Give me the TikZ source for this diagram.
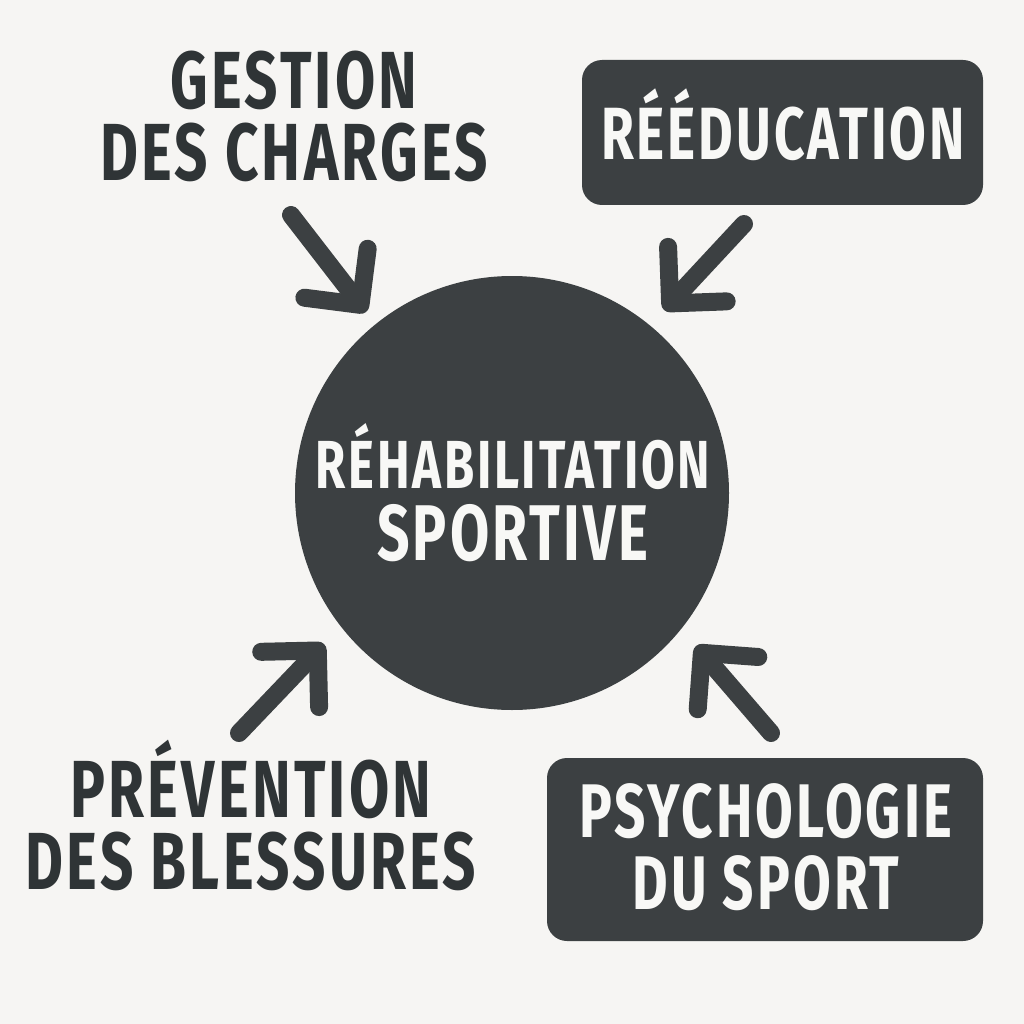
\documentclass[tikz,border=0pt]{standalone}
\usepackage{fontspec}
\newfontfamily\lbl{Fira Sans}[FakeStretch=0.72, LetterSpace=4]
\usetikzlibrary{arrows.meta}
\definecolor{bg}{HTML}{F6F5F3}
\definecolor{dark}{HTML}{3C4042}
\definecolor{ink}{HTML}{2F3436}
\definecolor{paper}{HTML}{F8F8F6}
\tikzset{
  txt/.style={align=center, inner sep=0pt, text=ink},
  wtxt/.style={align=center, inner sep=0pt, text=paper},
  boxed/.style={fill=dark, rounded corners=20pt, inner sep=0pt},
  hub/.style={circle, fill=dark, inner sep=0pt, minimum size=434pt},
  arr/.style={draw=dark, line width=18pt, line cap=round,
    -{Straight Barb[length=40pt, width=80pt, round]}}
}
\newcommand{\lf}[1]{\lbl\bfseries\fontsize{#1}{72}\selectfont}
\begin{document}
\begin{tikzpicture}[x=1pt,y=-1pt]
\useasboundingbox (0,0) rectangle (1024,1024);
\fill[bg] (0,0) rectangle (1024,1024);

\node[hub] (hub) at (512,493) {};
\node[wtxt, font=\lf{68}] (hubt) at (513,493) {RÉHABILITATION\\{\lf{79}SPORTIVE}};

\node[txt, font=\lf{81}] (gest) at (294,116) {GESTION\\DES CHARGES};

\path[boxed] (582,60) rectangle (983,205);
\node[wtxt, font=\lf{74}] (reed) at (783,125) {RÉÉDUCATION};

\node[txt, font=\lf{81}] (prev) at (251,815) {PRÉVENTION\\DES BLESSURES};

\path[boxed] (547,758) rectangle (983,941);
\node[wtxt, font=\lf{76}] (psy) at (766,847) {PSYCHOLOGIE\\DU SPORT};

\coordinate (t1) at (291,215); \coordinate (h1) at (366,312);
\coordinate (t2) at (744,224); \coordinate (h2) at (664,310);
\coordinate (t3) at (239,733); \coordinate (h3) at (324,644);
\coordinate (t4) at (771,733); \coordinate (h4) at (696,646);
\draw[arr] (t1) -- (h1);
\draw[arr] (t2) -- (h2);
\draw[arr] (t3) -- (h3);
\draw[arr] (t4) -- (h4);
\end{tikzpicture}
\end{document}
